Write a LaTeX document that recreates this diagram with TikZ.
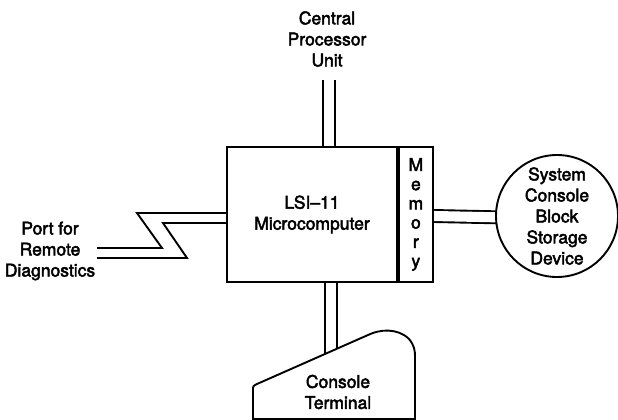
\documentclass[tikz,border=0pt]{standalone}
\usepackage{fontspec}
\setmainfont{TeX Gyre Heros}[FakeBold=2.6]
\usepackage{tikz}
\usetikzlibrary{positioning,calc,backgrounds}

\begin{document}
\begin{tikzpicture}[
  x=1pt, y=-1pt,
  font=\fontsize{17.5}{21}\selectfont,
  wire/.style={line width=1.9pt},
  bus/.style={line width=1.9pt, double, double distance=10.1pt},
  unit/.style={draw, line width=1.9pt, fill=white, align=center, inner sep=0pt},
  lbl/.style={align=center, inner sep=0pt},
]
\useasboundingbox (0,0) rectangle (618,420);
\node[unit, minimum width=170pt, minimum height=135pt] (lsi) at (312,214.5) {LSI--11\\Microcomputer};
\node[unit, minimum width=34pt, minimum height=135pt, right=0pt of lsi,
      font=\fontsize{17.5}{19.2}\selectfont] (mem) {M\\e\\m\\o\\r\\y};
\node[unit, circle, minimum size=122pt] (disk) at (557,216) {System\\Console\\Block\\Storage\\Device};
\node[lbl] (cpu) at (327,39) {Central\\Processor\\Unit};
\node[lbl] (port) at (50,251) {Port for\\Remote\\Diagnostics};
% terminal outline
\draw[wire, fill=white] (253,419) -- (253,390) .. controls (253,386) .. (257,384)
  -- (368,335) .. controls (380,329) and (398,328) .. (409,339)
  .. controls (414,345) and (415,350) .. (415,356) -- (415,419) -- cycle;
\node[lbl] (term) at (338,392) {Console\\Terminal};
\coordinate (cputop) at (329,80);
\coordinate (termtop) at (331,362);
\coordinate (portA) at (97,248);
\coordinate (portB) at (97,258);
\begin{scope}[on background layer]
\draw[bus] ($(lsi.north)+(17,0)$) -- (cputop);
\draw[bus] ($(lsi.south)+(19,0)$) -- (termtop);
\draw[bus] ($(mem.east)+(0,1.5)$) -- ($(disk.west)+(10,1.5)$);
\end{scope}
\draw[wire] ($(lsi.west)+(0,-1.5)$) -- (137,213) -- (162,248) -- (portA);
\draw[wire] ($(lsi.west)+(0,8.5)$) -- (163,223) -- (187,258) -- (portB);
\end{tikzpicture}
\end{document}
